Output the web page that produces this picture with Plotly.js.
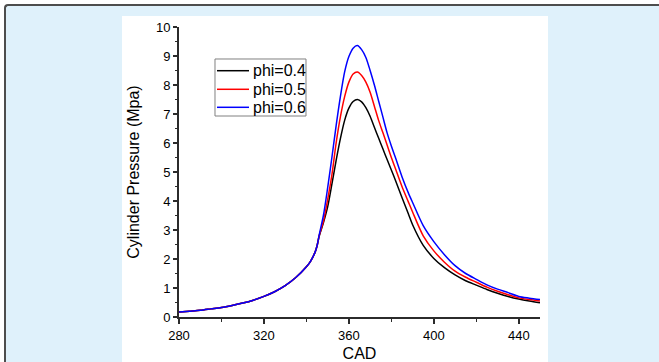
<!DOCTYPE html>
<html>
<head>
<meta charset="utf-8">
<script src="https://cdn.plot.ly/plotly-3.0.1.min.js"></script>
<style>
  html, body { margin: 0; padding: 0; background: #dff1fb; }
  #wrap { position: relative; width: 659px; height: 362px; overflow: hidden; background: #ffffff; }
  #frame { position: absolute; left: 4px; top: 4px; width: 700px; height: 400px;
           box-sizing: border-box;
           border-left: 2px solid #4d4d4d; border-top: 2px solid #4d4d4d;
           border-top-left-radius: 4px; background: #dff1fb; }
  #panel { position: absolute; left: 122px; top: 16px; width: 426px; height: 346px; background: #ffffff; }
  #plot { position: absolute; left: 0; top: 0; width: 659px; height: 362px; }
</style>
</head>
<body>
<div id="wrap">
<div id="frame"></div>
<div id="panel"></div>
<div id="plot"></div>
</div>
<script>
// Crank angle (CAD)
const cad = [280,285,290,295,300,305,310,315,320,325,330,335,340,342,344,345,
  346,348,350,352,354,356,358,360,362,364,366,368,370,372,374,376,378,380,382,
  385,388,390,395,400,405,410,415,420,425,430,435,440,445,450];

// Common compression part (280..345)
const motoring = [0.17,0.20,0.23,0.28,0.33,0.40,0.48,0.58,0.71,0.87,1.08,1.36,1.73,1.93,2.22,2.45];

// Combustion part (346..450) for each equivalence ratio
const phi04Tail = [2.78,3.25,3.8,4.58,5.4,6.15,6.78,7.2,7.43,7.5,7.42,7.22,6.92,6.54,6.17,5.8,5.43,5.07,4.7,
  4.12,3.56,3.18,2.47,2.02,1.7,1.45,1.25,1.1,0.95,0.82,0.71,0.62,0.55,0.49];
const phi05Tail = [2.8,3.3,4.05,4.9,6.0,6.9,7.6,8.1,8.38,8.45,8.33,8.1,7.75,7.27,6.78,6.36,5.93,5.5,5.1,
  4.5,3.97,3.62,2.8,2.28,1.89,1.58,1.37,1.2,1.03,0.89,0.77,0.66,0.6,0.55];
const phi06Tail = [2.82,3.5,4.45,5.5,6.6,7.6,8.45,8.98,9.27,9.36,9.22,8.95,8.5,8.0,7.45,6.9,6.35,5.9,5.48,
  4.84,4.28,3.95,3.15,2.6,2.15,1.77,1.5,1.3,1.11,0.96,0.84,0.71,0.65,0.60];

const seriesNames = ['phi=0.4','phi=0.5','phi=0.6'];
const seriesColors = ['#000000','#ff0000','#0000ff'];
const tails = [phi04Tail, phi05Tail, phi06Tail];

const xTicks = [280,320,360,400,440];
const yTicks = [0,1,2,3,4,5,6,7,8,9,10];

const traces = tails.map((t, i) => ({
  x: cad,
  y: motoring.concat(t),
  type: 'scatter',
  mode: 'lines',
  name: seriesNames[i],
  line: { color: seriesColors[i], width: 1.5, shape: 'spline', smoothing: 0.8 }
}));

// Compact legend (Origin style), built from the series names/colours
const legX0 = 0.0997, legX1 = 0.3518, legY0 = 0.6931, legY1 = 0.8897;
const rowY = [0.8493, 0.7852, 0.7231];
const shapes = [{
  type: 'rect', xref: 'paper', yref: 'paper',
  x0: legX0, x1: legX1, y0: legY0, y1: legY1,
  fillcolor: '#ffffff', line: { color: '#808080', width: 1 }
}];
const annotations = [];
seriesNames.forEach((n, i) => {
  shapes.push({
    type: 'line', xref: 'paper', yref: 'paper',
    x0: 0.1053, x1: 0.1939, y0: rowY[i], y1: rowY[i],
    line: { color: seriesColors[i], width: 1.5 }
  });
  annotations.push({
    xref: 'paper', yref: 'paper', x: 0.1994, y: rowY[i],
    xanchor: 'left', yanchor: 'middle', showarrow: false,
    text: n, font: { size: 16, color: '#000000' }
  });
});

const axisColor = '#2b2b2b';
const layout = {
  width: 659, height: 362,
  margin: { l: 179, r: 119, t: 27, b: 45 },
  paper_bgcolor: 'rgba(0,0,0,0)',
  plot_bgcolor: 'rgba(0,0,0,0)',
  font: { family: 'Liberation Sans, Arial, sans-serif', color: '#000000', size: 13 },
  showlegend: false,
  shapes: shapes,
  annotations: annotations,
  xaxis: {
    range: [280, 450],
    tickvals: xTicks, ticktext: xTicks.map(String),
    showgrid: false, zeroline: false,
    showline: true, linecolor: axisColor, linewidth: 2,
    ticks: 'outside', ticklen: 5, tickwidth: 1.5, tickcolor: axisColor,
    minor: { dtick: 20, tick0: 280, ticks: 'outside', ticklen: 3, tickwidth: 1.5, tickcolor: axisColor, showgrid: false },
    title: { text: 'CAD', font: { size: 16 }, standoff: 11 }
  },
  yaxis: {
    range: [0, 10],
    tickvals: yTicks, ticktext: yTicks.map(String),
    showgrid: false, zeroline: false,
    showline: true, linecolor: axisColor, linewidth: 2,
    ticks: 'outside', ticklen: 4, tickwidth: 1.5, tickcolor: axisColor,
    minor: { dtick: 0.5, tick0: 0, ticks: 'outside', ticklen: 2, tickwidth: 1.5, tickcolor: axisColor, showgrid: false },
    title: { text: 'Cylinder Pressure (Mpa)', font: { size: 16 }, standoff: 12 }
  }
};

Plotly.newPlot('plot', traces, layout, { displayModeBar: false, staticPlot: true });
</script>
</body>
</html>
